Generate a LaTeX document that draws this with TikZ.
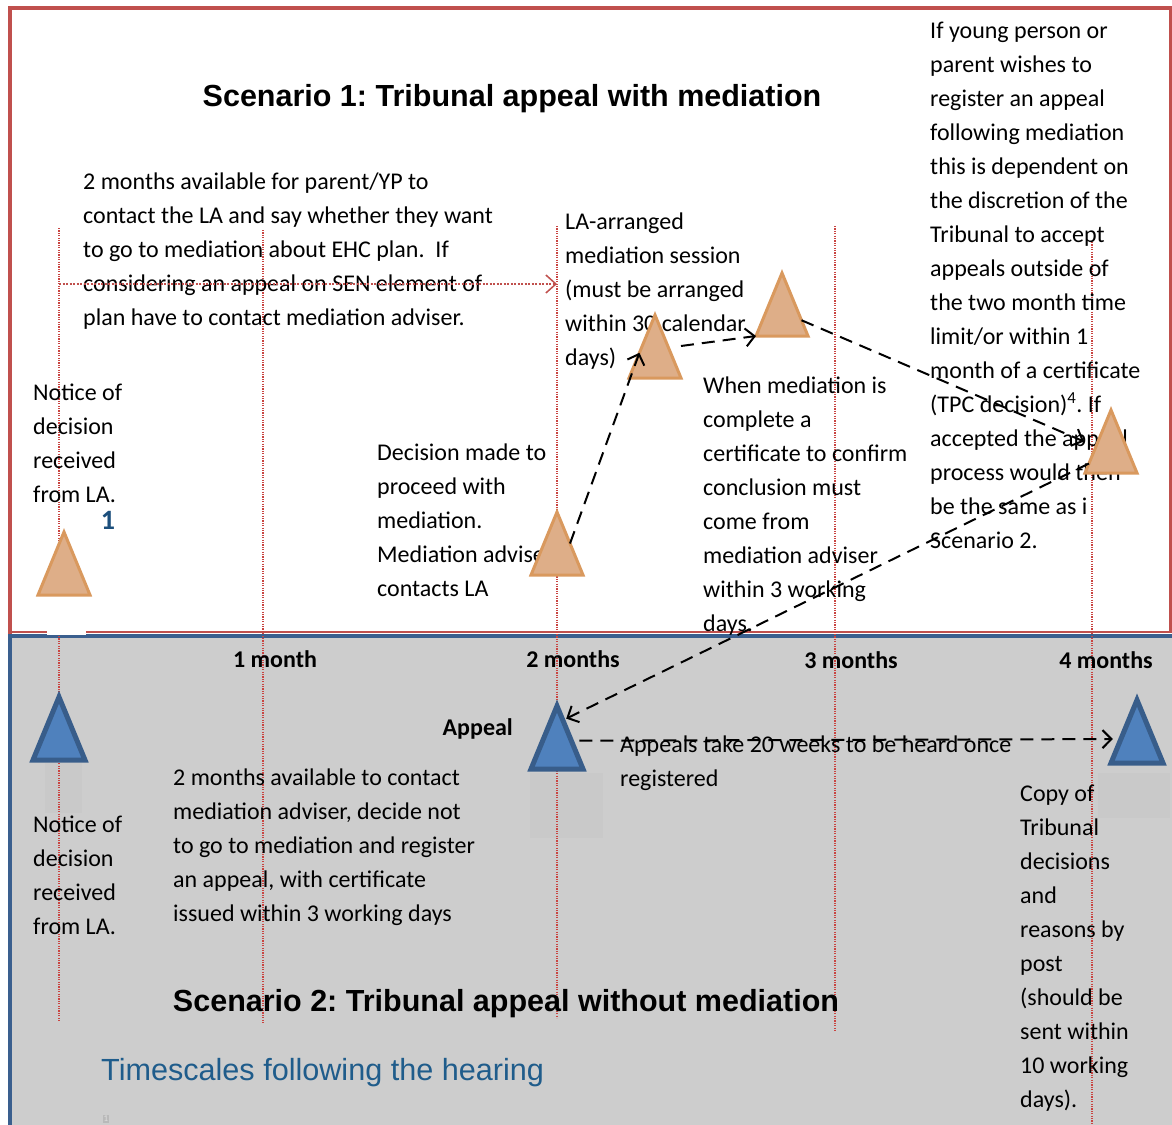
\documentclass[tikz,border=0pt]{standalone}
\usepackage{fontspec}
\setmainfont{Carlito}
\newfontfamily\headfont{Liberation Sans}
\usetikzlibrary{shapes.geometric,calc,arrows.meta}
\definecolor{frameRed}{HTML}{C0504D}
\definecolor{frameBlue}{HTML}{3A5F8E}
\definecolor{panelGrey}{HTML}{CDCDCD}
\definecolor{shadeGrey}{HTML}{C9C9C9}
\definecolor{triOrange}{HTML}{DEAE88}
\definecolor{triOrangeEdge}{HTML}{D9995E}
\definecolor{triBlue}{HTML}{4F81BD}
\definecolor{triBlueEdge}{HTML}{385D8A}
\definecolor{headBlue}{HTML}{1F5C8B}
\definecolor{numBlue}{HTML}{1C4F7C}
\frenchspacing
\begin{document}
\begin{tikzpicture}[x=1pt,y=-1pt,
        body/.style={font=\fontsize{24}{34}\selectfont, align=left, anchor=north west, inner sep=0pt},
        month/.style={font=\bfseries\fontsize{24}{29}\selectfont, inner sep=0pt},
        heading/.style={font=\headfont\bfseries\fontsize{30.5}{36}\selectfont, inner sep=0pt},
        tri/.style={isosceles triangle, isosceles triangle stretches, shape border rotate=90,
            minimum width=52pt, minimum height=63pt, inner sep=0pt, outer sep=0pt, anchor=apex},
        orangetri/.style={tri, fill=triOrange, draw=triOrangeEdge, line width=3pt},
        bluetri/.style={tri, fill=triBlue, draw=triBlueEdge, line width=5pt},
        guide/.style={draw=frameRed!85!red, line width=1.2pt, dash pattern=on 1.2pt off 1.2pt},
        flow/.style={line width=2pt, dash pattern=on 13pt off 8pt, -{Straight Barb[length=9pt,width=18pt]}},
        reddots/.style={frameRed, line width=1.5pt, dash pattern=on 2pt off 1.5pt, -{Straight Barb[length=10pt,width=18pt]}}]
    \useasboundingbox (0,0) rectangle (1172,1124);
    %% Panels
    \fill[white] (0,0) rectangle (1172,1124);
    \draw[frameRed, line width=3.5pt] (10,1200) -- (10,8) -- (1171,8) -- (1171,633);
    \draw[frameRed, line width=1.5pt] (10,632) -- (1171,632);
    \fill[panelGrey] (10,636) rectangle (1200,1200);
    \draw[frameBlue, line width=4pt] (10,1200) -- (10,636) -- (1200,636);
    \fill[shadeGrey] (45,763) rectangle (82,813);
    \fill[shadeGrey] (530,773) rectangle (603,838);
    \fill[shadeGrey] (1098,773) rectangle (1170,818);
    %% Month guides
    \foreach \gx/\gtop/\gbot in {59/228/1021, 263/230/1024, 557/226/1018, 835/226/1032, 1092/242/1124}
        \draw[guide] (\gx,\gtop) -- (\gx,\gbot);
    %% Scenario 1
    \node[heading] (head1) at (512,99) {Scenario 1: Tribunal appeal with mediation};
    \node[body] (optin) at (83,173) {2 months available for parent/YP to\\contact the LA and say whether they want\\to go to mediation about EHC plan.\ \ If\\considering an appeal on SEN element of\\plan have to contact mediation adviser.};
    \node[body] (session) at (565,213) {LA-arranged\\mediation session\\(must be arranged\\within 30 calendar\\days)};
    \node[body] (late) at (930,22) {If young person or\\parent wishes to\\register an appeal\\following mediation\\this is dependent on\\the discretion of the\\Tribunal to accept\\appeals outside of\\the two month time\\limit/or within 1\\month of a certificate\\(TPC decision)\textsuperscript{4}. If\\accepted the appeal\\process would then\\be the same as i\\Scenario 2.};
    \node[body] (notice1) at (33,384) {Notice of\\decision\\received\\from LA.};
    \node[font=\bfseries\fontsize{28}{32}\selectfont, text=numBlue, inner sep=0pt] (one) at (108,520) {1};
    \node[body] (decide) at (377,444) {Decision made to\\proceed with\\mediation.\\Mediation adviser\\contacts LA};
    \node[body] (complete) at (703,377) {When mediation is\\complete a\\certificate to confirm\\conclusion must\\come from\\mediation adviser\\within 3 working\\days.};
    %% Scenario 2
    \node[month] (m1) at (275,659) {1 month};
    \node[month] (m2) at (573,659) {2 months};
    \node[month] (m3) at (851,660) {3 months};
    \node[month] (m4) at (1106,660) {4 months};
    \node[month, anchor=east] (appeal) at (513,729) {Appeal};
    \node[body] (direct) at (173,769) {2 months available to contact\\mediation adviser, decide not\\to go to mediation and register\\an appeal, with certificate\\issued within 3 working days};
    \node[body] (notice2) at (33,816) {Notice of\\decision\\received\\from LA.};
    \node[body] (hearing) at (620,736) {Appeals take 20 weeks to be heard once\\registered};
    \node[body] (copy) at (1020,785) {Copy of\\Tribunal\\decisions\\and\\reasons by\\post\\(should be\\sent within\\10 working\\days).};
    \node[heading] (head2) at (506,1004) {Scenario 2: Tribunal appeal without mediation};
    \node[font=\headfont\fontsize{30.6}{36}\selectfont, text=headBlue, anchor=west, inner sep=0pt] (times) at (101,1073) {Timescales following the hearing};
    \node[fill=gray!55, text=gray!25, font=\fontsize{9}{10}\selectfont, inner sep=1pt] (fn) at (106,1119) {1};
    %% Milestones
    \node[orangetri] (t1) at (64,532) {};
    \node[orangetri] (t2) at (557,512) {};
    \node[orangetri] (t3) at (655,315) {};
    \node[orangetri] (t4) at (782,273) {};
    \node[orangetri] (t5) at (1111,410) {};
    \fill[white] (47,597) rectangle (86,635);
    \node[bluetri] (b1) at (59,697) {};
    \node[bluetri] (b2) at (557,706) {};
    \node[bluetri] (b3) at (1137,700) {};
    %% Connectors
    \coordinate (redstart) at (59,284);
    \draw[reddots] (redstart) -- (redstart -| t2.apex);
    \draw[flow] ($(t2.apex)!.5!(t2.right corner)$) -- ($(t3.apex)!.6!(t3.left corner)$);
    \draw[flow] ($(t3.right corner)+(0,-32)$) -- (t4.left corner);
    \draw[flow] ($(t4.apex)!.75!(t4.right corner)$) -- ($(t5.apex)!.5!(t5.left corner)+(-14,0)$);
    \draw[flow] ($(t5.apex)!.85!(t5.left corner)$) -- ($(b2.apex)!.2!(b2.right corner)+(4,0)$);
    \draw[flow] ($(b2.apex)!.55!(b2.right corner)+(8,0)$) -- ($(b3.apex)!.62!(b3.left corner)+(-8,0)$);
\end{tikzpicture}
\end{document}
